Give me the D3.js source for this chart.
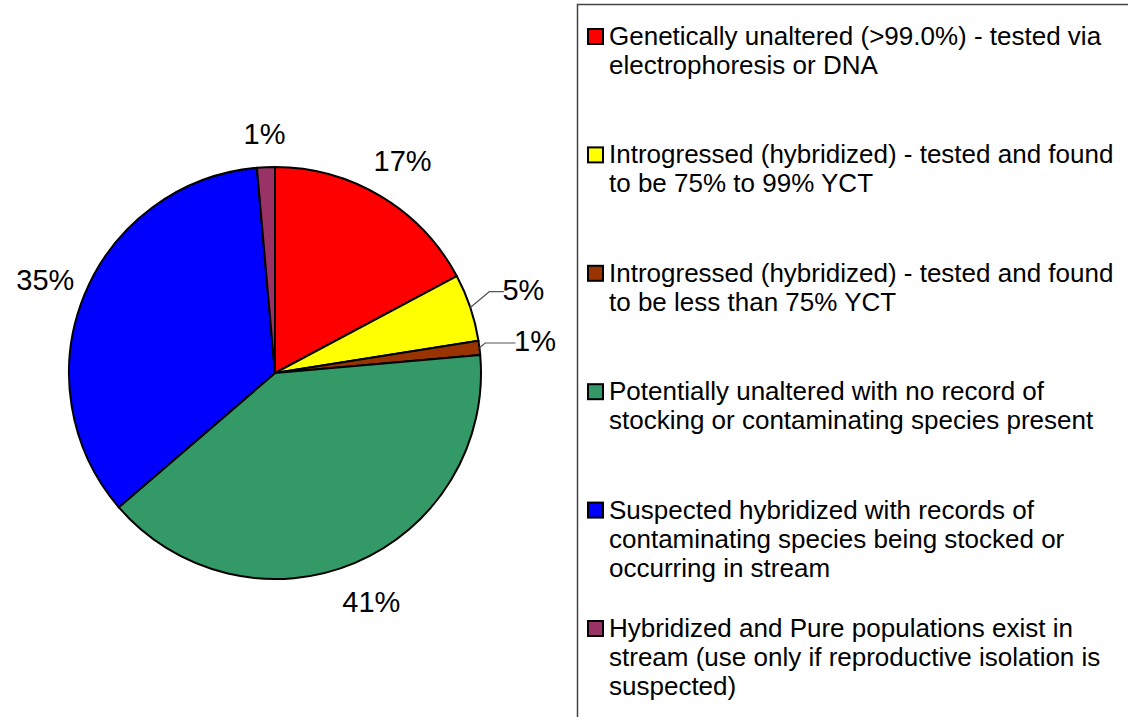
<!DOCTYPE html>
<html>
<head>
<meta charset="utf-8">
<script src="https://cdn.jsdelivr.net/npm/d3@7"></script>
<style>
  body { margin: 0; background: #fff; }
  svg { display: block; font-family: "Liberation Sans", Arial, sans-serif; }
</style>
</head>
<body>
<script>
// chart size
let w = 1128;
let h = 717;

// data
let categories = [
  ["Genetically unaltered (>99.0%) - tested via", "electrophoresis or DNA"],
  ["Introgressed (hybridized) - tested and found", "to be 75% to 99% YCT"],
  ["Introgressed (hybridized) - tested and found", "to be less than 75% YCT"],
  ["Potentially unaltered with no record of", "stocking or contaminating species present"],
  ["Suspected hybridized with records of", "contaminating species being stocked or", "occurring in stream"],
  ["Hybridized and Pure populations exist in", "stream (use only if reproductive isolation is", "suspected)"]
];
let values = [17.2, 5.3, 1.1, 40.1, 34.9, 1.4];
let labels = ["17%", "5%", "1%", "41%", "35%", "1%"];
let colors = ["#ff0000", "#ffff00", "#993300", "#339966", "#0000ff", "#993366"];

let cx = 275, cy = 373, r = 206;

let svg = d3.select("body").append("svg")
  .attr("width", w)
  .attr("height", h);

let pie = d3.pie().sort(null).value(function(d) { return d; });
let arcs = pie(values);

let arc = d3.arc().innerRadius(0).outerRadius(r);

let g = svg.append("g").attr("transform", "translate(" + cx + "," + cy + ")");

g.selectAll("path")
  .data(arcs)
  .enter()
  .append("path")
  .attr("d", arc)
  .attr("fill", function(d, i) { return colors[i]; })
  .attr("stroke", "#000")
  .attr("stroke-width", 2)
  .attr("stroke-linejoin", "round");

// labels along the bisector, small side ones pushed out further with a leader
function mid(d) { return (d.startAngle + d.endAngle) / 2; }
function isSmall(d) {
  let a = mid(d);
  return d.value < 6 && a > Math.PI / 4 && a < Math.PI * 3 / 4;
}
function labelPos(d) {
  let a = mid(d);
  let lr = isSmall(d) ? r + 56 : (d.value < 6 ? r + 34 : r + 42);
  return [Math.sin(a) * lr, -Math.cos(a) * lr];
}

g.selectAll("text.pct")
  .data(arcs)
  .enter()
  .append("text")
  .attr("class", "pct")
  .attr("x", function(d) { return labelPos(d)[0]; })
  .attr("y", function(d) { return labelPos(d)[1]; })
  .attr("text-anchor", "middle")
  .attr("dy", "0.36em")
  .style("font-size", "29px")
  .attr("fill", "#000")
  .text(function(d, i) { return labels[i]; });

// leader lines
g.selectAll("polyline.leader")
  .data(arcs.filter(isSmall))
  .enter()
  .append("polyline")
  .attr("class", "leader")
  .attr("fill", "none")
  .attr("stroke", "#555")
  .attr("stroke-width", 1.2)
  .attr("points", function(d) {
    let a = mid(d);
    let x0 = Math.sin(a) * r, y0 = -Math.cos(a) * r;
    let p = labelPos(d);
    let ly = p[1] + 2;
    let tw = labels[arcs.indexOf(d)].length * 14.5;
    let lx = p[0] - tw / 2 - 5;
    let ex = x0 + Math.abs(y0 - ly) * 1.2;
    return [[x0, y0], [ex, ly], [lx, ly]].join(" ");
  });

// legend
let lg = svg.append("g");
lg.append("rect")
  .attr("x", 577.5)
  .attr("y", 4.5)
  .attr("width", 600)
  .attr("height", 760)
  .attr("fill", "#fff")
  .attr("stroke", "#444")
  .attr("stroke-width", 1.5);

let items = lg.selectAll("g.item")
  .data(categories)
  .enter()
  .append("g")
  .attr("class", "item")
  .attr("transform", function(d, i) { return "translate(587," + (45 + i * 118.4) + ")"; });

items.append("rect")
  .attr("x", 1)
  .attr("y", -16)
  .attr("width", 15)
  .attr("height", 15)
  .attr("fill", function(d, i) { return colors[i]; })
  .attr("stroke", "#000")
  .attr("stroke-width", 2);

items.append("text")
  .style("font-size", "26px")
  .attr("fill", "#000")
  .selectAll("tspan")
  .data(function(d) { return d; })
  .enter()
  .append("tspan")
  .attr("x", 22)
  .attr("y", function(d, i) { return i * 29; })
  .text(function(d) { return d; });
</script>
</body>
</html>
